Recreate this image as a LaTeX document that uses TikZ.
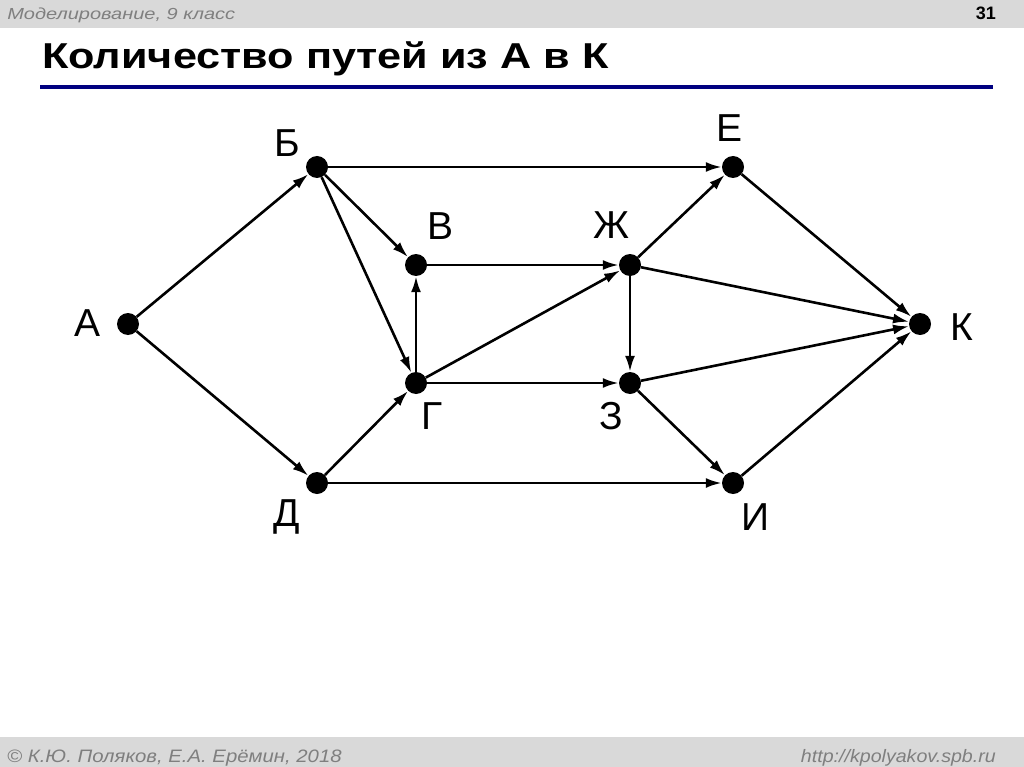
\documentclass[tikz,border=0pt]{standalone}
\usepackage{fontspec}
\setmainfont{Liberation Sans}
\usetikzlibrary{arrows.meta}
\definecolor{hdr}{HTML}{D9D9D9}
\definecolor{hdrtext}{HTML}{7F7F7F}
\definecolor{navy}{HTML}{000080}
\tikzset{
  vtx/.style={circle,fill=black,minimum size=22pt,inner sep=0pt},
  lbl/.style={font=\fontsize{39}{39}\selectfont,inner sep=0pt},
  edge/.style={line width=2.6pt,-{Latex[length=16pt,width=10pt]}},
}
\begin{document}
\begin{tikzpicture}[x=1pt,y=-1pt]
\useasboundingbox (0,0) rectangle (1024,767);
\fill[white] (0,0) rectangle (1024,767);
\fill[hdr] (0,0) rectangle (1024,28);
\fill[hdr] (0,737) rectangle (1024,767);
\node[anchor=base west,inner sep=0pt,text=hdrtext,font=\fontsize{16}{16}\itshape\selectfont,xscale=1.25] (hd) at (7,20) {Моделирование, 9 класс};
\node[anchor=base east,inner sep=0pt,font=\fontsize{18}{18}\bfseries\selectfont] (num) at (996,20) {31};
\node[anchor=base west,inner sep=0pt,font=\fontsize{36}{36}\bfseries\selectfont,xscale=1.2] (title) at (42,69) {Количество путей из А в К};
\fill[navy] (40,85) rectangle (993,89);
\node[anchor=base west,inner sep=0pt,text=hdrtext,font=\fontsize{18}{18}\itshape\selectfont,xscale=1.13] (ft1) at (7,762) {© К.Ю. Поляков, Е.А. Ерёмин, 2018};
\node[anchor=base east,inner sep=0pt,text=hdrtext,font=\fontsize{18}{18}\itshape\selectfont,xscale=1.09] (ft2) at (996,762) {http://kpolyakov.spb.ru};

\node[vtx] (A) at (128,324) {};
\node[vtx] (B) at (317,167) {};
\node[vtx] (V) at (416,265) {};
\node[vtx] (G) at (416,383) {};
\node[vtx] (D) at (317,483) {};
\node[vtx] (E) at (733,167) {};
\node[vtx] (Zh) at (630,265) {};
\node[vtx] (Z) at (630,383) {};
\node[vtx] (I) at (733,483) {};
\node[vtx] (K) at (920,324) {};

\node[lbl] (lA) at (88,323) {А};
\node[lbl] (lB) at (287,143) {Б};
\node[lbl] (lV) at (440,226) {В};
\node[lbl] (lZh) at (611,225) {Ж};
\node[lbl] (lE) at (729,128) {Е};
\node[lbl] (lK) at (962,327) {К};
\node[lbl] (lG) at (432,416) {Г};
\node[lbl] (lZ) at (611,416) {З};
\node[lbl] (lD) at (287,517) {Д};
\node[lbl] (lI) at (756,517) {И};

\draw[edge] (A) -- (B);
\draw[edge] (A) -- (D);
\draw[edge] (B) -- (E);
\draw[edge] (B) -- (V);
\draw[edge] (B) -- (G);
\draw[edge] (G) -- (V);
\draw[edge] (V) -- (Zh);
\draw[edge] (G) -- (Zh);
\draw[edge] (G) -- (Z);
\draw[edge] (D) -- (G);
\draw[edge] (D) -- (I);
\draw[edge] (Zh) -- (E);
\draw[edge] (Zh) -- (K);
\draw[edge] (Zh) -- (Z);
\draw[edge] (Z) -- (K);
\draw[edge] (Z) -- (I);
\draw[edge] (E) -- (K);
\draw[edge] (I) -- (K);
\end{tikzpicture}
\end{document}
